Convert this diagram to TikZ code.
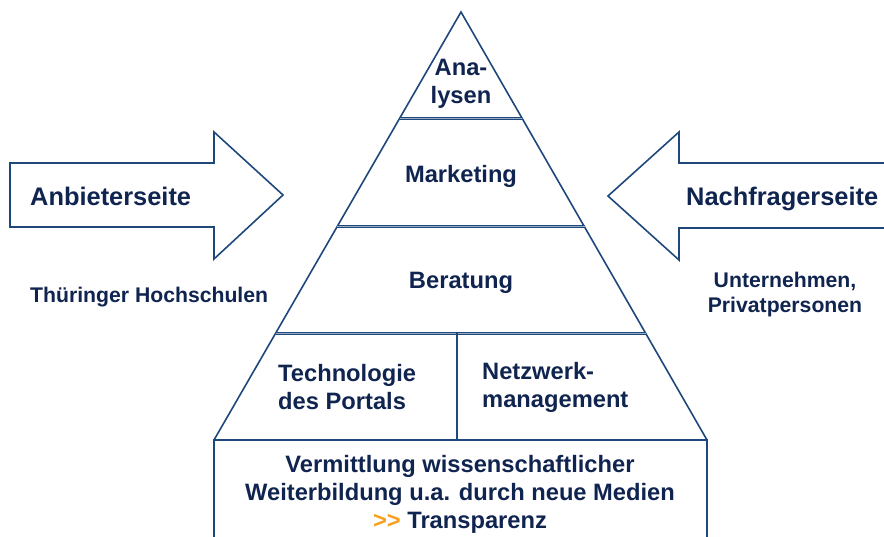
\documentclass[tikz,border=0pt]{standalone}
\usepackage{fontspec}
\setmainfont{Liberation Sans}
\definecolor{navy}{RGB}{16,36,80}
\definecolor{linie}{RGB}{30,72,124}
\definecolor{orangeg}{RGB}{247,160,28}

\begin{document}
\begin{tikzpicture}[x=1pt,y=-1pt,
    every node/.style={text=navy,inner sep=0pt},
    big/.style={font=\fontsize{25.4}{30}\selectfont\bfseries},
    mid/.style={font=\fontsize{23.7}{28}\selectfont\bfseries},
    small/.style={font=\fontsize{21.2}{25}\selectfont\bfseries},
    rand/.style={draw=linie,line width=1.6pt,line join=miter},
    stufe/.style={draw=linie,line width=1pt,double=linie!45,double distance=1pt}]
    \useasboundingbox (0,0) rectangle (884,536);
    % pyramid
    \coordinate(top) at (461,12);
    \coordinate(bl) at (214,440);
    \coordinate(br) at (707,440);
    \draw[rand] (bl) -- (top) -- (br);
    \draw[stufe] (400,118) -- (522,118);
    \draw[stufe] (337,226) -- (585,226);
    \draw[stufe] (276,333) -- (646,333);
    \draw[rand] (457,333) -- (457,440);
    % base box
    \draw[rand] (214,540) -- (bl) -- (br) -- (707,540);
    % arrows
    \draw[rand] (10,163) -- (214,163) -- (214,132) -- (283,195) -- (214,259) -- (214,227) -- (10,227) -- cycle;
    \draw[rand] (890,163) -- (679,163) -- (679,132) -- (608,196) -- (679,260) -- (679,228) -- (890,228);
    % texts
    \node[mid,align=center](ana) at (461,84) {Ana-\\lysen};
    \node[mid](mkt) at (461,176) {Marketing};
    \node[mid](ber) at (461,283) {Beratung};
    \node[mid,align=left,anchor=west](tec) at (278,387) {Technologie\\des Portals};
    \node[mid,align=left,anchor=west](net) at (482,387) {Netzwerk-\\management};
    \node[mid,align=center](ver) at (460,494) {Vermittlung wissenschaftlicher\\Weiterbildung u.a. durch neue Medien\\{\color{orangeg}{>}{>}} Transparenz};
    \node[big,anchor=west](anb) at (30,196) {Anbieterseite};
    \node[big,anchor=west](nach) at (686,199) {Nachfragerseite};
    \node[small,anchor=west](thu) at (30,297) {Thüringer Hochschulen};
    \node[small,align=center](unt) at (785,295) {Unternehmen,\\Privatpersonen};
\end{tikzpicture}
\end{document}
